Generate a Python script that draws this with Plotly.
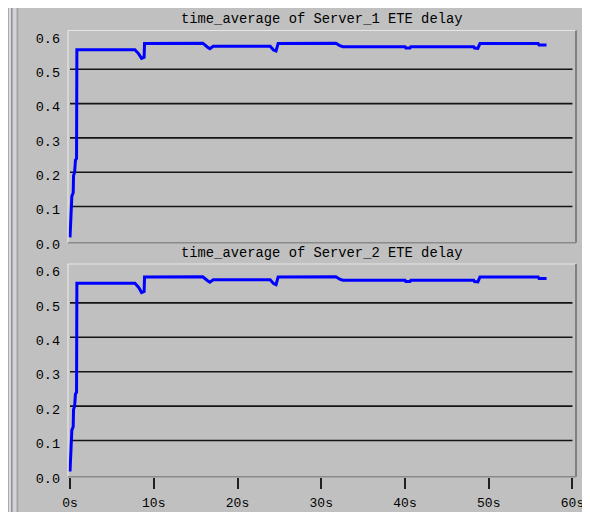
import plotly.graph_objects as go

# ---------------- data ----------------
panel_titles = ["time_average of Server_1 ETE delay",
                "time_average of Server_2 ETE delay"]

server1_t = [0.00, 0.05, 0.10, 0.18, 0.22, 0.38, 0.42, 0.55, 0.65, 0.78, 0.80, 0.82,
             7.75, 8.20, 8.55, 8.85, 8.90,
             15.85, 16.40, 16.70, 17.10,
             23.90, 24.30, 24.60, 24.85,
             31.75, 32.20, 32.60,
             40.00, 40.10, 40.60, 40.70,
             48.20, 48.30, 48.70, 48.95,
             55.90, 56.00, 56.90]
server1_v = [0.010, 0.050, 0.085, 0.100, 0.130, 0.140, 0.190, 0.200, 0.235, 0.240, 0.400, 0.557,
             0.557, 0.545, 0.532, 0.535, 0.575,
             0.576, 0.565, 0.560, 0.567,
             0.567, 0.556, 0.553, 0.575,
             0.576, 0.569, 0.566,
             0.566, 0.562, 0.562, 0.566,
             0.566, 0.562, 0.561, 0.575,
             0.575, 0.571, 0.571]

server2_t = [0.00, 0.05, 0.10, 0.18, 0.22, 0.38, 0.42, 0.55, 0.65, 0.78, 0.80, 0.82,
             7.75, 8.20, 8.55, 8.85, 8.90,
             15.85, 16.40, 16.70, 17.10,
             23.90, 24.30, 24.60, 24.85,
             31.75, 32.20, 32.60,
             40.00, 40.10, 40.60, 40.70,
             48.20, 48.30, 48.70, 48.95,
             55.90, 56.00, 56.90]
server2_v = [0.010, 0.050, 0.085, 0.100, 0.130, 0.140, 0.190, 0.200, 0.235, 0.240, 0.400, 0.557,
             0.557, 0.545, 0.530, 0.533, 0.575,
             0.576, 0.565, 0.560, 0.567,
             0.567, 0.556, 0.553, 0.575,
             0.576, 0.569, 0.566,
             0.566, 0.562, 0.562, 0.566,
             0.566, 0.562, 0.561, 0.575,
             0.575, 0.571, 0.571]

y_tick_vals = [0.0, 0.1, 0.2, 0.3, 0.4, 0.5, 0.6]
y_tick_text = ["0.0", "0.1", "0.2", "0.3", "0.4", "0.5", "0.6"]
x_tick_vals = [0, 10, 20, 30, 40, 50, 60]
x_tick_text = ["0s", "10s", "20s", "30s", "40s", "50s", "60s"]
grid_vals = [0.1, 0.2, 0.3, 0.4, 0.5]

# ---------------- style ----------------
# page body has an 8px margin; the figure starts at (8, 8)
OFF = 8
W, H = 590 - OFF, 520 - 2 * OFF
BG = "#c0c0c0"
FONT = "Liberation Mono"

def px(v):
    return v - OFF

x_left, x_right = px(68), px(576)
top_panel = (px(30.5), px(242.7))
bot_panel = (px(264.0), px(476.8))

def ydom(p):
    return [(H - p[1]) / H, (H - p[0]) / H]

xdom = [x_left / W, x_right / W]
x_range = [-0.24, 60.42]
y_range = [-0.0055, 0.613]

fig = go.Figure()
fig.add_trace(go.Scatter(x=server1_t, y=server1_v, mode="lines",
                         line=dict(color="#0000ff", width=3),
                         xaxis="x", yaxis="y", showlegend=False))
fig.add_trace(go.Scatter(x=server2_t, y=server2_v, mode="lines",
                         line=dict(color="#0000ff", width=3),
                         xaxis="x2", yaxis="y2", showlegend=False))

yax_common = dict(range=y_range, tickvals=y_tick_vals, ticktext=y_tick_text,
                  showgrid=False, zeroline=False, ticks="", showline=False,
                  automargin=False,
                  tickfont=dict(family=FONT, size=13.5, color="#000000"),
                  ticklabelstandoff=7, ticklabelshift=3, fixedrange=True)

fig.update_layout(
    width=W, height=H, autosize=False,
    margin=dict(l=0, r=0, t=0, b=0, pad=0),
    paper_bgcolor=BG, plot_bgcolor=BG,
    xaxis=dict(domain=xdom, range=x_range, anchor="y", showticklabels=False,
               automargin=False,
               showgrid=False, zeroline=False, ticks="", showline=False),
    yaxis=dict(domain=ydom(top_panel), anchor="x", **yax_common),
    xaxis2=dict(domain=xdom, range=x_range, anchor="y2",
                tickvals=x_tick_vals, ticktext=x_tick_text,
                ticks="outside", ticklen=11, tickwidth=2, tickcolor="#202020",
                tickfont=dict(family=FONT, size=13, color="#000000"),
                ticklabelstandoff=3, automargin=False, ticklabeloverflow="allow",
                showgrid=False, zeroline=False, showline=False),
    yaxis2=dict(domain=ydom(bot_panel), anchor="x2", **yax_common),
)

shapes = []
annotations = []
for xa, ya, panel, title in [("x", "y", top_panel, panel_titles[0]),
                             ("x2", "y2", bot_panel, panel_titles[1])]:
    for g in grid_vals:
        shapes.append(dict(type="line", xref=xa, yref=ya, x0=0, x1=60, y0=g, y1=g,
                           line=dict(color="#141414", width=1.6), layer="below"))
    xd, yd = xa + " domain", ya + " domain"
    shapes.append(dict(type="line", xref=xd, yref=yd, x0=0, x1=0, y0=0, y1=1,
                       line=dict(color="#e6e6e6", width=1.2)))
    shapes.append(dict(type="line", xref=xd, yref=yd, x0=0, x1=1, y0=1, y1=1,
                       line=dict(color="#e6e6e6", width=1.2)))
    shapes.append(dict(type="line", xref=xd, yref=yd, x0=1, x1=1, y0=0, y1=1,
                       line=dict(color="#808080", width=2)))
    shapes.append(dict(type="line", xref=xd, yref=yd, x0=0, x1=1, y0=0, y1=0,
                       line=dict(color="#8a8a8a", width=1.5)))
    annotations.append(dict(text=title, xref="paper", yref="paper",
                            x=(x_left + x_right) / 2 / W, y=(H - (panel[0] - 11)) / H,
                            xanchor="center", yanchor="middle", showarrow=False,
                            font=dict(family=FONT, size=13.8, color="#000000")))

# left window frame strips (page coords 8..18.3)
for x0, x1, c in [(8, 9, "#a8a8b8"), (9, 11, "#dadada"), (11, 12.7, "#909090"),
                  (12.7, 16.7, "#d2d2da"), (16.7, 18.3, "#a0a0a0")]:
    shapes.append(dict(type="rect", xref="paper", yref="paper",
                       x0=px(x0) / W, x1=px(x1) / W,
                       y0=0, y1=1, fillcolor=c, line=dict(width=0)))

fig.update_layout(shapes=shapes, annotations=annotations)
fig.write_html("out.html")
